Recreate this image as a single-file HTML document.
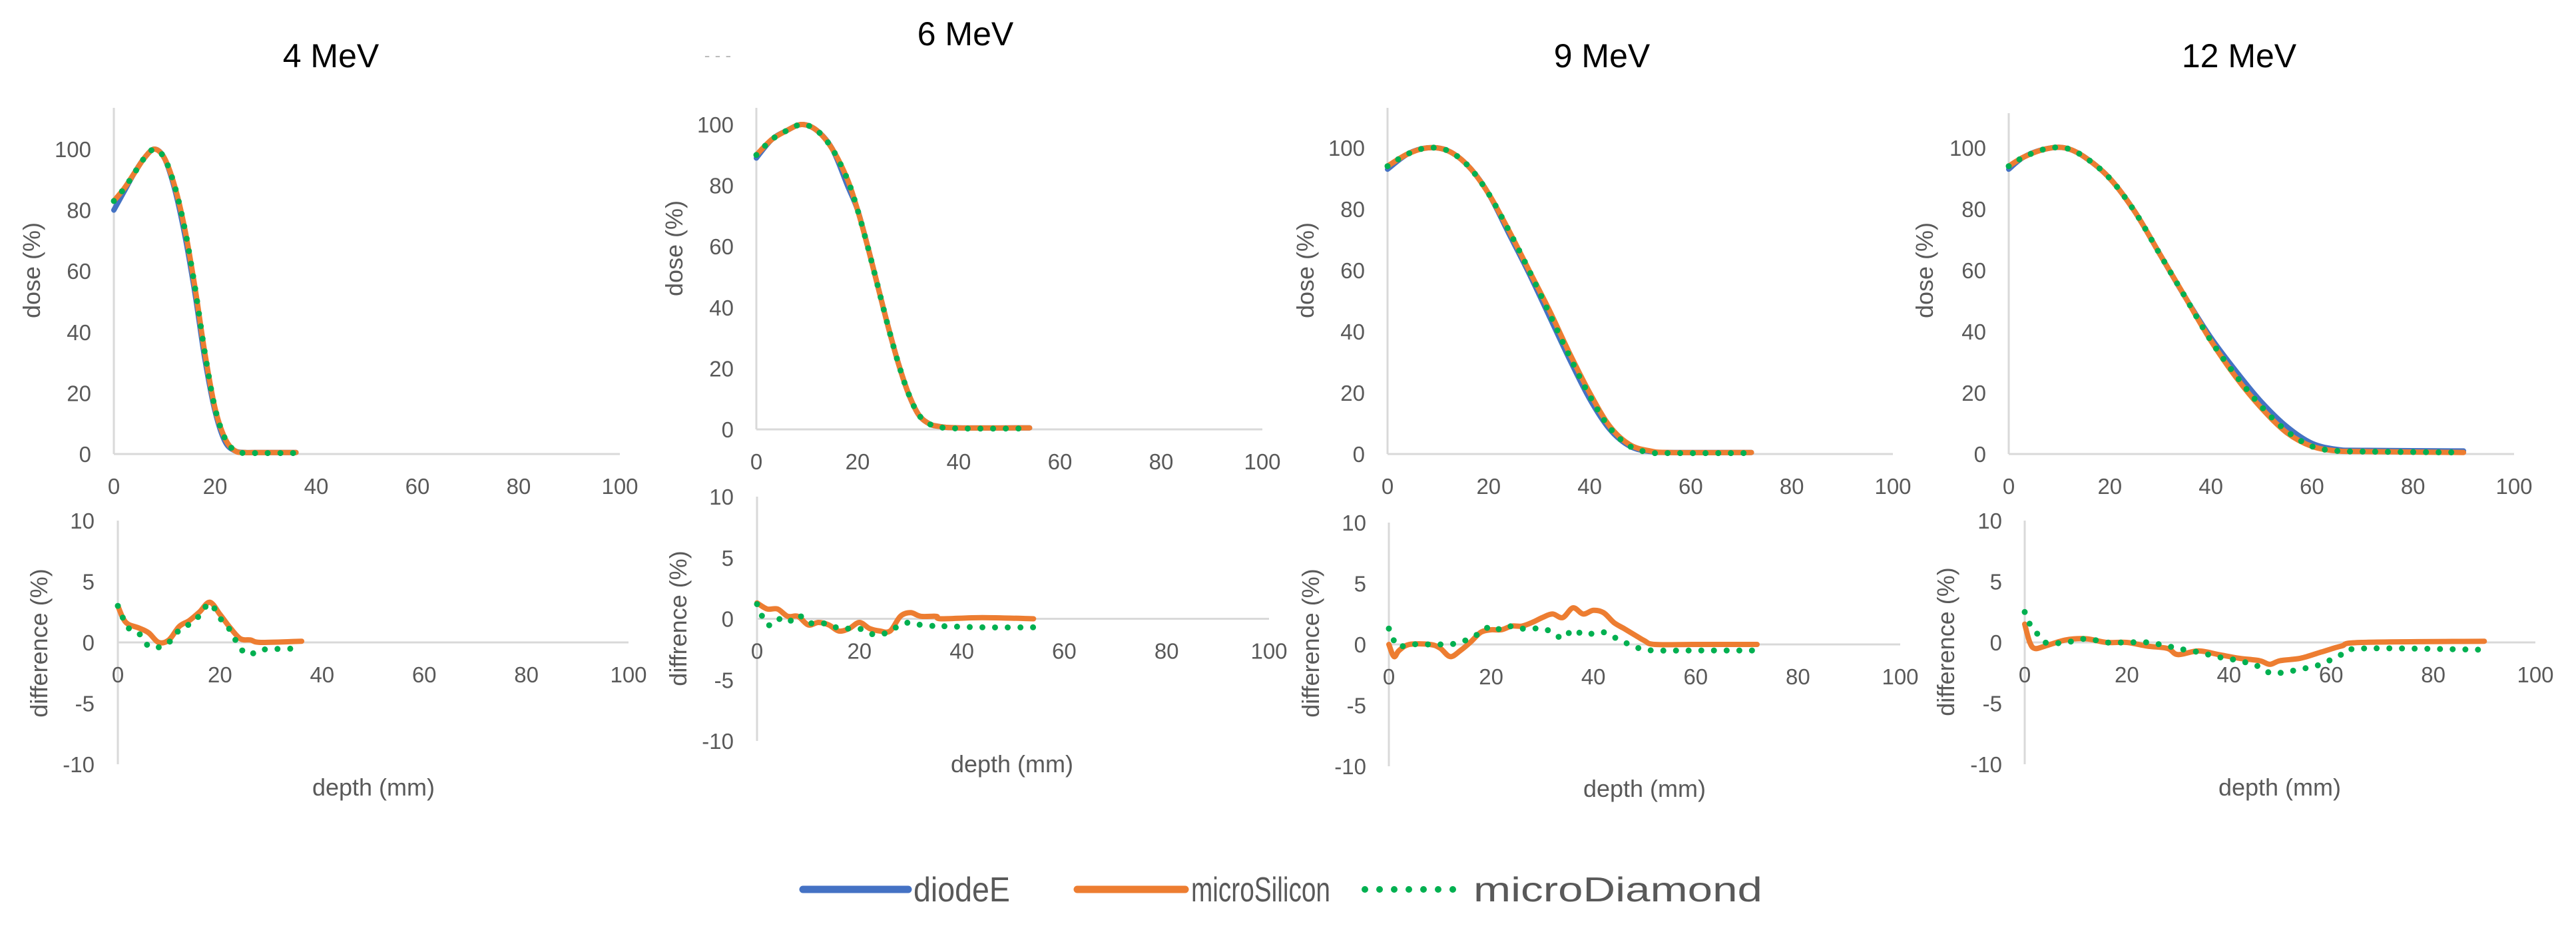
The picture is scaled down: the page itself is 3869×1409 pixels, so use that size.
<!DOCTYPE html>
<html><head><meta charset="utf-8"><title>Depth dose comparison</title>
<style>
html,body{margin:0;padding:0;background:#fff;}
svg{display:block;font-family:"Liberation Sans",sans-serif;}
</style></head>
<body>
<svg id="chart" width="3869" height="1409" viewBox="0 0 3869 1409" xmlns="http://www.w3.org/2000/svg">
<rect width="3869" height="1409" fill="#fff"/>
<text x="1078" y="92" font-size="26" fill="#bbb" text-anchor="middle">- - -</text>
<g id="legend">
  <g>
    <line x1="1206" y1="1336" x2="1364" y2="1336" stroke="#4472c4" stroke-width="11" stroke-linecap="round"/>
    <text x="1372" y="1354" font-size="52" fill="#595959" textLength="145" lengthAdjust="spacingAndGlyphs">diodeE</text>
  </g>
  <g>
    <line x1="1618" y1="1336" x2="1780" y2="1336" stroke="#ed7d31" stroke-width="11" stroke-linecap="round"/>
    <text x="1789" y="1354" font-size="52" fill="#595959" textLength="209" lengthAdjust="spacingAndGlyphs">microSilicon</text>
  </g>
  <g>
    <line x1="2050" y1="1336" x2="2203" y2="1336" stroke="#00b050" stroke-width="10" stroke-linecap="round" stroke-dasharray="0 22"/>
    <text x="2213" y="1354" font-size="52" fill="#595959" textLength="434" lengthAdjust="spacingAndGlyphs">microDiamond</text>
  </g>
</g>
</svg>
<script>
// ---- data ----
const energies = ["4 MeV", "6 MeV", "9 MeV", "12 MeV"];
const xTicks = [0, 20, 40, 60, 80, 100];
const doseTicks = [0, 20, 40, 60, 80, 100];
const diffTicks = [-10, -5, 0, 5, 10];

const depth4 = [0, 2, 4, 6, 8, 10, 12, 14, 16, 18, 20, 22, 24, 26, 28, 36];
const diodeE4 = [80, 86, 92, 97, 100, 97, 87, 72, 53, 31, 14, 4, 1, 0.5, 0.5, 0.5];
const microSilicon4 = [83, 87, 92, 97, 100, 97, 88, 74, 55, 33, 15, 5, 1, 0.5, 0.5, 0.5];
const microDiamond4 = [83, 87, 92, 97, 100, 97, 88, 74, 55, 33, 15, 5, 1, 0.3, 0.3, 0.3];
const diffDepth4 = [0, 1, 2, 4, 6, 8, 10, 12, 14, 16, 18, 20, 22, 24, 26, 28, 36];
const diffSilicon4 = [3, 2, 1.5, 1.2, 0.8, 0, 0.2, 1.3, 1.8, 2.5, 3.3, 2.3, 1.2, 0.3, 0.2, 0, 0.1];
const diffDiamond4 = [3, 2, 1.2, 0.8, -0.3, -0.4, 0, 1, 1.5, 2.2, 3.2, 2, 1, -0.5, -1, -0.6, -0.5];

const depth6 = [0, 3, 6, 9, 12, 15, 18, 20, 22, 24, 26, 28, 30, 32, 34, 36, 40, 54];
const diodeE6 = [89, 95, 98, 100, 98, 92, 80, 72, 60, 47, 34, 22, 12, 5, 2, 1, 0.5, 0.5];
const microSilicon6 = [90, 95, 98, 100, 98, 92, 82, 72, 60, 47, 34, 22, 12, 5, 2, 1, 0.5, 0.5];
const microDiamond6 = [90, 95, 98, 100, 98, 92, 82, 72, 60, 47, 34, 22, 12, 5, 2, 0.8, 0.3, 0.3];
const diffDepth6 = [0, 2, 4, 6, 8, 10, 12, 14, 16, 18, 20, 22, 24, 26, 28, 30, 32, 35, 36, 44, 54];
const diffSilicon6 = [1.3, 0.8, 0.8, 0.2, 0.2, -0.5, -0.3, -0.5, -1, -0.8, -0.3, -0.8, -1, -1, 0.2, 0.5, 0.2, 0.2, 0, 0.1, 0];
const diffDiamond6 = [1.2, -0.5, 0, -0.3, 0.3, -0.3, -0.4, -0.4, -0.8, -0.8, -0.8, -1.2, -1.3, -1, -0.5, -0.3, -0.5, -0.6, -0.6, -0.7, -0.7];

const depth9 = [0, 4, 8, 12, 16, 20, 24, 28, 32, 36, 40, 44, 48, 52, 56, 72];
const diodeE9 = [93, 98, 100, 99, 94, 85, 72, 59, 45, 31, 18, 8, 2.5, 0.8, 0.5, 0.5];
const microSilicon9 = [94, 98, 100, 99, 94, 85, 73, 60, 47, 33, 20, 9, 3, 1, 0.5, 0.5];
const microDiamond9 = [94, 98, 100, 99, 94, 85, 73, 60, 46, 32, 19, 8.5, 2.5, 0.5, 0.3, 0.3];
const diffDepth9 = [0, 1, 2, 4, 8, 10, 12, 14, 16, 18, 20, 22, 24, 26, 28, 30, 32, 34, 36, 38, 40, 42, 44, 46, 48, 50, 52, 60, 72];
const diffSilicon9 = [0, -1, -0.5, 0, 0, -0.3, -1, -0.5, 0.2, 1, 1.2, 1.2, 1.5, 1.5, 1.8, 2.2, 2.5, 2.2, 3, 2.5, 2.8, 2.6, 1.8, 1.3, 0.8, 0.3, 0, 0, 0];
const diffDiamond9 = [1.3, 0.3, -0.2, 0, 0, 0, 0, 0.2, 0.5, 1, 1.5, 1.2, 1.5, 1.3, 1.3, 1.3, 1, 0.5, 1.2, 0.8, 0.9, 1, 0.6, 0.2, -0.2, -0.4, -0.5, -0.5, -0.5];

const depth12 = [0, 3, 7, 11, 15, 20, 25, 30, 35, 40, 45, 50, 55, 60, 65, 70, 90];
const diodeE12 = [93, 97, 99.5, 100, 97, 90, 79, 65, 51, 38, 27, 17, 9, 3.5, 1.5, 1.2, 1];
const microSilicon12 = [94, 97, 99.5, 100, 97, 90, 79, 65, 51, 37, 25, 15, 7, 2.5, 1, 0.8, 0.5];
const microDiamond12 = [94, 97, 99.5, 100, 97, 90, 79, 65, 51, 37, 25.5, 15.5, 7.5, 2.5, 1, 0.8, 0.5];
const diffDepth12 = [0, 1, 2, 4, 8, 12, 16, 20, 24, 28, 30, 34, 38, 42, 46, 48, 50, 54, 58, 62, 66, 90];
const diffSilicon12 = [1.5, 0, -0.5, -0.3, 0.2, 0.3, 0, 0, -0.3, -0.5, -1, -0.7, -1, -1.3, -1.5, -1.8, -1.5, -1.3, -0.8, -0.3, 0, 0.1];
const diffDiamond12 = [2.5, 1.5, 1, 0, 0, 0.3, 0, 0, 0, -0.3, -0.5, -0.8, -1.2, -1.5, -2, -2.5, -2.5, -2.2, -1.8, -1, -0.5, -0.6];

// ---- layout (pixel geometry) ----
const layout = [
 {title:[497,83], top:{ax:171,y0:682,y100:224,x100:931,top:162,tickR:137,lab:[48,406]},
  bot:{ax:177,y10:782,yn10:1148,x100:944,tickR:142,lab:[59,966]}, depthLab:[561,1182], diffName:"difference (%)"},
 {title:[1450,50], top:{ax:1136,y0:645,y100:187,x100:1896,top:162,tickR:1102,lab:[1013,373]},
  bot:{ax:1137,y10:746,yn10:1113,x100:1906,tickR:1102,lab:[1019,929]}, depthLab:[1520,1147], diffName:"diffrence (%)"},
 {title:[2406,83], top:{ax:2084,y0:682,y100:222,x100:2843,top:162,tickR:2050,lab:[1961,406]},
  bot:{ax:2086,y10:785,yn10:1151,x100:2854,tickR:2052,lab:[1969,966]}, depthLab:[2470,1184], diffName:"difference (%)"},
 {title:[3363,83], top:{ax:3017,y0:682,y100:222,x100:3776,top:170,tickR:2983,lab:[2891,406]},
  bot:{ax:3041,y10:782,yn10:1148,x100:3808,tickR:3007,lab:[2923,964]}, depthLab:[3424,1182], diffName:"difference (%)"}
];

const doseSeries = [
 [depth4, diodeE4, microSilicon4, microDiamond4],
 [depth6, diodeE6, microSilicon6, microDiamond6],
 [depth9, diodeE9, microSilicon9, microDiamond9],
 [depth12, diodeE12, microSilicon12, microDiamond12]
];
const diffSeries = [
 [diffDepth4, diffSilicon4, diffDiamond4],
 [diffDepth6, diffSilicon6, diffDiamond6],
 [diffDepth9, diffSilicon9, diffDiamond9],
 [diffDepth12, diffSilicon12, diffDiamond12]
];

const NS = "http://www.w3.org/2000/svg";
const svg = document.getElementById("chart");
const legend = document.getElementById("legend");
function mk(tag, attrs, parent){
  const e = document.createElementNS(NS, tag);
  for (const k in attrs) e.setAttribute(k, attrs[k]);
  if (parent) parent.appendChild(e); else svg.insertBefore(e, legend);
  return e;
}
function smoothPath(pts){
  let d = "M" + pts[0][0].toFixed(1) + "," + pts[0][1].toFixed(1);
  for (let i = 0; i < pts.length - 1; i++){
    const p0 = pts[Math.max(0,i-1)], p1 = pts[i], p2 = pts[i+1], p3 = pts[Math.min(pts.length-1,i+2)];
    const c1x = p1[0] + (p2[0]-p0[0])/6, c1y = p1[1] + (p2[1]-p0[1])/6;
    const c2x = p2[0] - (p3[0]-p1[0])/6, c2y = p2[1] - (p3[1]-p1[1])/6;
    d += " C" + c1x.toFixed(1)+","+c1y.toFixed(1)+" "+c2x.toFixed(1)+","+c2y.toFixed(1)+" "+p2[0].toFixed(1)+","+p2[1].toFixed(1);
  }
  return d;
}
const colors = ["#4472c4", "#ed7d31", "#00b050"];
const names = ["diodee", "microsilicon", "microdiamond"];
const grey = "#595959", axisCol = "#d9d9d9";
const TICK_FS = 33, LAB_FS = 36;

layout.forEach((L, i) => {
  const g = mk("g", {});
  
  
  const t = mk("text", {x:L.title[0], y:L.title[1]+18, "font-size":50, "text-anchor":"middle", fill:"#000"}, g);
  t.textContent = energies[i];
  
  

  // top dose chart
  const T = L.top;
  const xs = v => T.ax + v/100*(T.x100 - T.ax);
  const ys = v => T.y0 + v/100*(T.y100 - T.y0);
  const ya = mk("line", {x1:T.ax, y1:T.top, x2:T.ax, y2:T.y0, stroke:axisCol, "stroke-width":3}, g);
  
  
  const xa = mk("line", {x1:T.ax, y1:T.y0, x2:T.x100, y2:T.y0, stroke:axisCol, "stroke-width":3}, g);
  
  
  doseTicks.forEach(v => {
    const tl = mk("text", {x:T.tickR, y:ys(v)+12, "font-size":TICK_FS, "text-anchor":"end", fill:grey}, g);
    tl.textContent = v;
    
    
  });
  xTicks.forEach(v => {
    const tl = mk("text", {x:xs(v), y:T.y0+60, "font-size":TICK_FS, "text-anchor":"middle", fill:grey}, g);
    tl.textContent = v;
    
    
  });
  const yl = mk("text", {x:0, y:0, "font-size":LAB_FS, "text-anchor":"middle", fill:grey, transform:"translate("+(T.lab[0]+12)+","+T.lab[1]+") rotate(-90)"}, g);
  yl.textContent = "dose (%)";
  
  
  const ds = doseSeries[i];
  for (let s = 0; s < 3; s++){
    const pts = ds[0].map((d, k) => [xs(d), ys(ds[s+1][k])]);
    const p = mk("path", {d:smoothPath(pts), fill:"none", stroke:colors[s], "stroke-width":s==2?9:8, "stroke-linecap":"round", "stroke-linejoin":"round"}, g);
    if (s == 2) p.setAttribute("stroke-dasharray", "0 19");
    
    
  }

  // bottom difference chart
  const B = L.bot;
  const y0b = (B.y10 + B.yn10)/2;
  const bx = v => B.ax + v/100*(B.x100 - B.ax);
  const by = v => y0b + v/10*(B.y10 - y0b);
  const bya = mk("line", {x1:B.ax, y1:B.y10, x2:B.ax, y2:B.yn10, stroke:axisCol, "stroke-width":3}, g);
  
  
  const bxa = mk("line", {x1:B.ax, y1:y0b, x2:B.x100, y2:y0b, stroke:axisCol, "stroke-width":3}, g);
  
  
  diffTicks.forEach(v => {
    const tl = mk("text", {x:B.tickR, y:by(v)+12, "font-size":TICK_FS, "text-anchor":"end", fill:grey}, g);
    tl.textContent = v;
    
    
  });
  xTicks.forEach(v => {
    const tl = mk("text", {x:bx(v), y:y0b+60, "font-size":TICK_FS, "text-anchor":"middle", fill:grey}, g);
    tl.textContent = v;
    
    
  });
  const dl = mk("text", {x:0, y:0, "font-size":LAB_FS, "text-anchor":"middle", fill:grey, transform:"translate("+(B.lab[0]+12)+","+B.lab[1]+") rotate(-90)"}, g);
  dl.textContent = L.diffName;
  
  
  const xl = mk("text", {x:L.depthLab[0], y:L.depthLab[1]+13, "font-size":LAB_FS, "text-anchor":"middle", fill:grey}, g);
  xl.textContent = "depth (mm)";
  
  
  const fs = diffSeries[i];
  for (let s = 0; s < 2; s++){
    const pts = fs[0].map((d, k) => [bx(d), by(fs[s+1][k])]);
    const p = mk("path", {d:smoothPath(pts), fill:"none", stroke:colors[s+1], "stroke-width":s==1?9:8, "stroke-linecap":"round", "stroke-linejoin":"round"}, g);
    if (s == 1) p.setAttribute("stroke-dasharray", "0 19");
    
    
  }
});
</script>
</body></html>
